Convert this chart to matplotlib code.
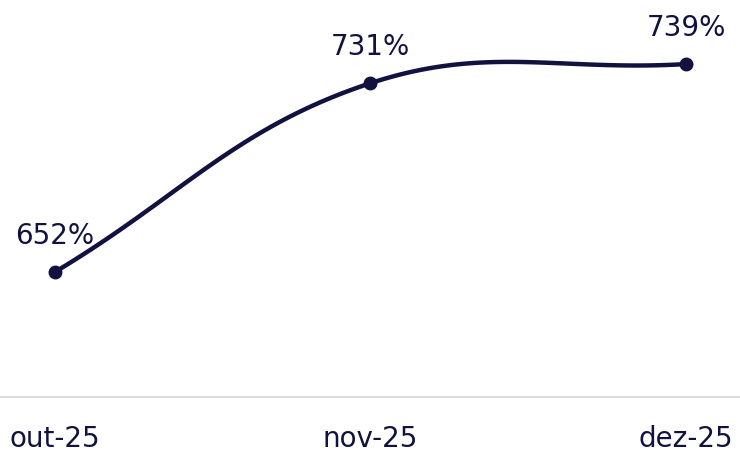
import numpy as np
import matplotlib
matplotlib.use("Agg")
import matplotlib.pyplot as plt

months = ["out-25", "nov-25", "dez-25"]
values = [652, 731, 739]
labels = ["652%", "731%", "739%"]

navy = "#11123f"
plt.rcParams['font.family'] = ['DejaVu Sans']

fig = plt.figure(figsize=(7.4, 4.55), dpi=100)
ax = fig.add_axes([0, 58/455, 1, 397/455])
ax.set_xlim(-0.174, 2.171)
ax.set_ylim(599.7, 765.8)

# spline like chart.js (tension 0.4), computed in pixel space
x = np.arange(len(values))
pts = ax.transData.transform(np.column_stack([x, values]))
n = len(pts)
t = 0.4
cps = []
for i in range(n):
    prev = pts[max(i-1, 0)]
    cur = pts[i]
    nxt = pts[min(i+1, n-1)]
    d01 = np.hypot(*(cur - prev))
    d12 = np.hypot(*(nxt - cur))
    s = d01 + d12
    s01 = d01/s if s else 0
    s12 = d12/s if s else 0
    cps.append((cur - t*s01*(nxt - prev), cur + t*s12*(nxt - prev)))
curve = []
u = np.linspace(0, 1, 60)[:, None]
for i in range(n-1):
    p0, p3 = pts[i], pts[i+1]
    p1, p2 = cps[i][1], cps[i+1][0]
    b = (1-u)**3*p0 + 3*(1-u)**2*u*p1 + 3*(1-u)*u**2*p2 + u**3*p3
    curve.append(b)
curve = ax.transData.inverted().transform(np.vstack(curve))
ax.plot(curve[:, 0], curve[:, 1], color=navy, lw=3.2, solid_capstyle='round')
ax.plot(x, values, 'o', color=navy, markersize=9)

for xi, v, lab in zip(x, values, labels):
    ax.annotate(lab, (xi, v), xytext=(0, 16), textcoords='offset points',
                ha='center', va='bottom', fontsize=20, color=navy)

for s in ['top', 'right', 'left']:
    ax.spines[s].set_visible(False)
ax.spines['bottom'].set_color('#dcdcdc')
ax.spines['bottom'].set_linewidth(1.5)
ax.set_yticks([])
ax.set_xticks(x)
ax.set_xticklabels(months, fontsize=20, color=navy)
ax.tick_params(axis='x', length=0, pad=20)

fig.savefig("out.png", dpi=100)
